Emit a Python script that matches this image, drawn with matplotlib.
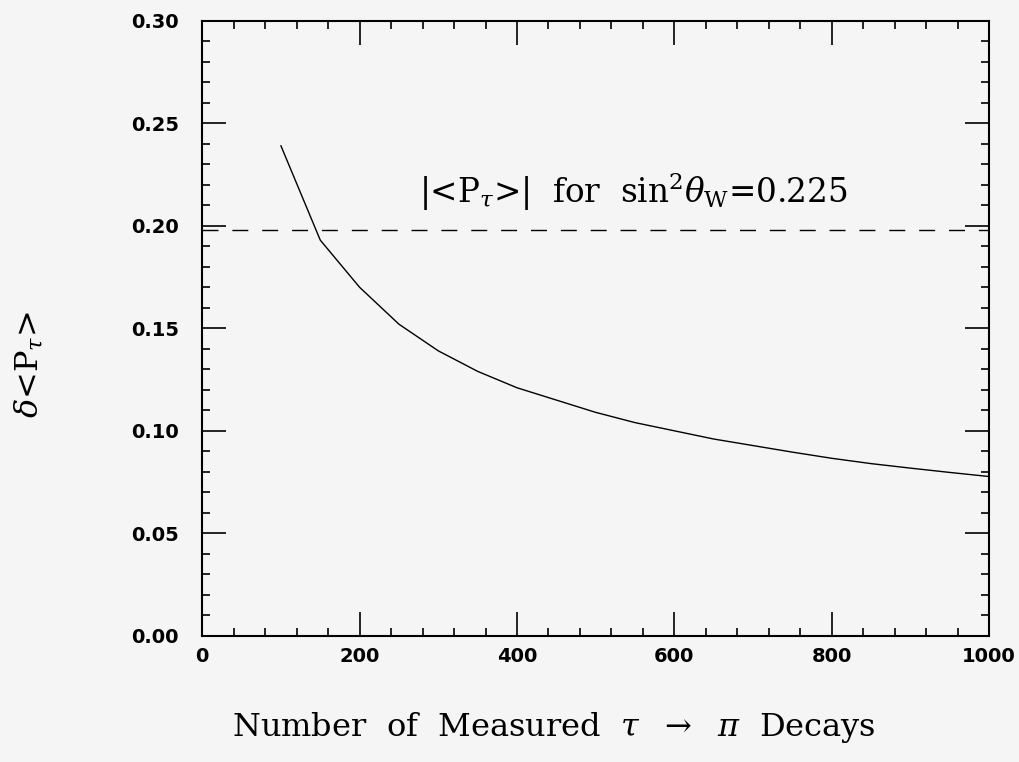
import matplotlib
matplotlib.use("Agg")
import matplotlib.pyplot as plt
from matplotlib.ticker import MultipleLocator, FixedFormatter, FixedLocator

plt.rcParams['mathtext.fontset'] = 'dejavuserif'

# data
n_decays = [100, 150, 200, 250, 300, 350, 400, 450, 500, 550, 600,
            650, 700, 750, 800, 850, 900, 950, 1000]
delta_p = [0.239, 0.193, 0.170, 0.152, 0.139, 0.129, 0.121, 0.115, 0.109,
           0.104, 0.100, 0.096, 0.0928, 0.0896, 0.0866, 0.0840, 0.0818, 0.0797, 0.0777]
ref_x = [0, 1000]
ref_y = [0.198, 0.198]
x_ticks = [0, 200, 400, 600, 800, 1000]
x_labels = ["0", "200", "400", "600", "800", "1000"]
y_ticks = [0.00, 0.05, 0.10, 0.15, 0.20, 0.25, 0.30]
y_labels = ["0.00", "0.05", "0.10", "0.15", "0.20", "0.25", "0.30"]

bg = "#f5f5f5"
fig = plt.figure(figsize=(10.19, 7.62), dpi=100, facecolor=bg)
ax = fig.add_axes([0.1985, 0.1656, 0.7721, 0.8071], facecolor=bg)

ax.plot(n_decays, delta_p, color="black", lw=1.0)
ax.plot(ref_x, ref_y, color="black", lw=1.0, dashes=(11.5, 10))

ax.set_xlim(0, 1000)
ax.set_ylim(0, 0.30)

ax.xaxis.set_major_locator(FixedLocator(x_ticks))
ax.xaxis.set_major_formatter(FixedFormatter(x_labels))
ax.yaxis.set_major_locator(FixedLocator(y_ticks))
ax.yaxis.set_major_formatter(FixedFormatter(y_labels))
ax.xaxis.set_minor_locator(MultipleLocator(40))
ax.yaxis.set_minor_locator(MultipleLocator(0.01))

ax.tick_params(which="both", direction="in", top=True, right=True, width=1.2, color="black")
ax.tick_params(which="major", length=17)
ax.tick_params(which="minor", length=6)
ax.tick_params(axis="x", which="major", pad=8)
ax.tick_params(axis="y", which="major", pad=17)
for lab in ax.get_xticklabels() + ax.get_yticklabels():
    lab.set_fontsize(14)
    lab.set_fontweight("bold")
    lab.set_family("DejaVu Sans")

for sp in ax.spines.values():
    sp.set_linewidth(1.5)

ax.text(276, 0.211, r"$|$<P$_\tau$>$|$  for  sin$^2\theta_{\rm W}$=0.225",
        fontsize=23.5, family="DejaVu Serif", va="baseline", ha="left")

fig.text(0.543, 0.022, r"Number  of  Measured  $\tau$  $\rightarrow$  $\pi$  Decays",
         fontsize=23, family="DejaVu Serif", ha="center", va="bottom")
fig.text(0.028, 0.522, r"$\delta$<P$_\tau$>", fontsize=23, family="DejaVu Serif",
         rotation=90, ha="center", va="center")

fig.savefig("out.png", dpi=100, facecolor=bg)
